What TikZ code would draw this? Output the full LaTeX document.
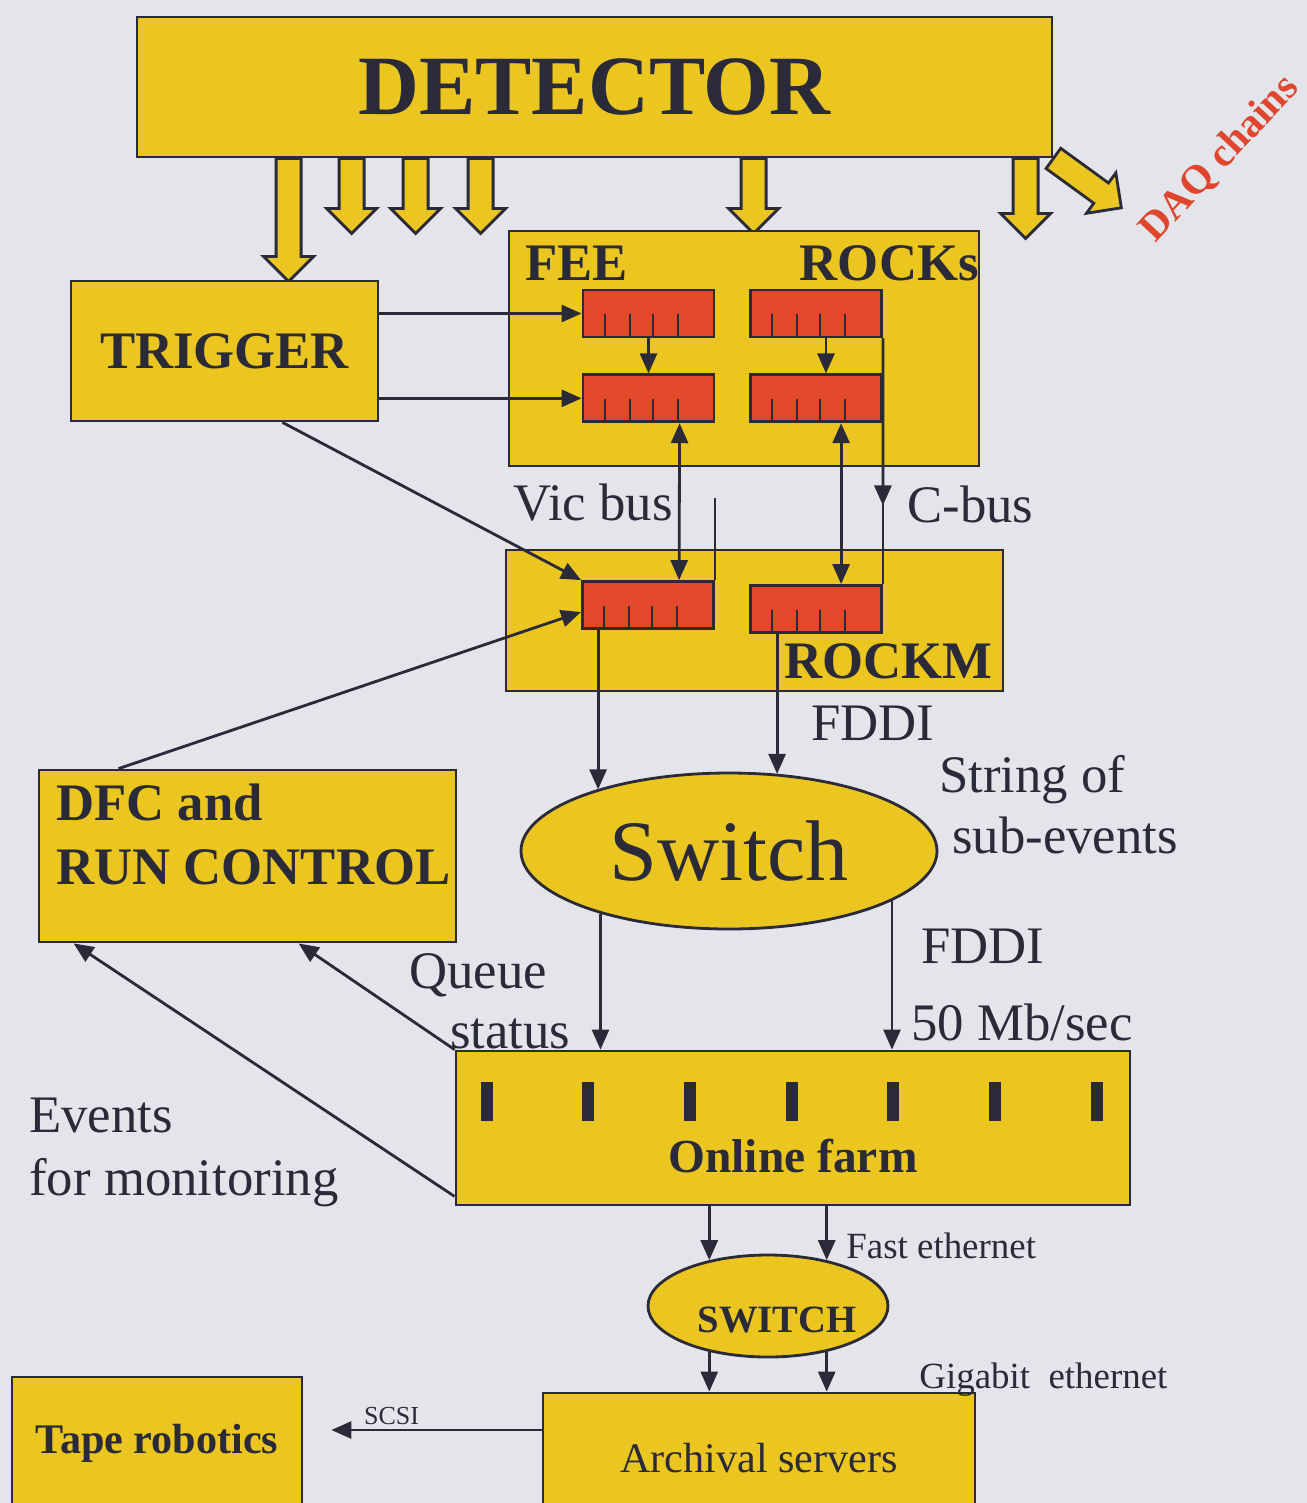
\documentclass[tikz,border=0pt]{standalone}
\usepackage{fontspec}
\setmainfont{Liberation Serif}
\usepackage{tikz}
\usetikzlibrary{arrows.meta,calc,shapes.geometric,positioning}
\definecolor{bgcol}{HTML}{E3E5EA}
\definecolor{yel}{HTML}{EBC620}
\definecolor{redmod}{HTML}{E5472A}
\definecolor{linecol}{HTML}{2A2A38}
\definecolor{daqred}{HTML}{E0452E}
\newcommand{\fatarrow}[3]{%
  \draw[fat, shift={#1}, rotate=#2] (0,0.125) -- (#3-0.25,0.125) -- (#3-0.25,0.25)
    -- (#3,0) -- (#3-0.25,-0.25) -- (#3-0.25,-0.125) -- (0,-0.125) -- cycle;}

\begin{document}
\begin{tikzpicture}[>={Stealth[length=0.2cm,width=0.17cm,inset=0pt]}, color=linecol, line width=0.8pt,
  box/.style={draw, fill=yel, inner sep=0pt},
  module/.style={draw, fill=redmod, minimum width=1.31cm, minimum height=0.47cm, inner sep=0pt},
  fat/.style={draw, fill=yel, line join=miter},
  lbl/.style={inner sep=0pt, font=\fontsize{15}{18}\selectfont},
  blbl/.style={inner sep=0pt, font=\fontsize{15}{18}\selectfont\bfseries},
  smalllbl/.style={inner sep=0pt, font=\fontsize{10.5}{12}\selectfont}]

% background
\useasboundingbox (0,0) rectangle (13.07,-15.03);
\clip (0,0) rectangle (13.07,-15.03);
\fill[bgcol] (0,0) rectangle (13.07,-15.03);

% ---- Detector and DAQ chains ----
\node[box, minimum width=9.15cm, minimum height=1.40cm, font=\fontsize{24}{28}\selectfont\bfseries] (det) at (5.945,-0.87) {\raisebox{-0.06cm}{DETECTOR}};
\fatarrow{($(det.south west)+(1.53,0)$)}{-90}{1.23}
\foreach \dx in {2.16,2.80,3.45,6.18} {\fatarrow{($(det.south west)+(\dx,0)$)}{-90}{0.75}}
\fatarrow{($(det.south west)+(8.90,0)$)}{-90}{0.80}
\fatarrow{(det.south east)}{-36}{0.84}
\node[font=\fontsize{11.6}{14}\selectfont\bfseries, text=daqred, rotate=47, inner sep=0pt] (daq) at (12.20,-1.59) {DAQ chains};

% ---- FEE / ROCKs crate ----
\node[box, minimum width=4.70cm, minimum height=2.35cm] (fee) at (7.44,-3.485) {};
\node[blbl, anchor=base west] at (5.24,-2.80) {FEE};
\node[blbl, anchor=base east] at (9.80,-2.80) {ROCKs};
\node[module] (feeA) at (6.485,-3.135) {};
\node[module, below=0.35cm of feeA] (feeB) {};
\node[module] (rockA) at (8.16,-3.135) {};
\node[module, below=0.35cm of rockA] (rockB) {};

% ---- Trigger ----
\node[box, minimum width=3.07cm, minimum height=1.40cm, font=\fontsize{15}{18}\selectfont\bfseries] (trig) at (2.245,-3.51) {TRIGGER};

% ---- ROCKM ----
\node[box, minimum width=4.97cm, minimum height=1.41cm] (rockm) at (7.545,-6.205) {};
\node[blbl, anchor=base west] at (7.83,-6.78) {ROCKM};
\node[module] (rmA) at (6.48,-6.05) {};
\node[module] (rmB) at (8.16,-6.09) {};

% ticks on the modules
\foreach \m in {feeA,feeB,rockA,rockB,rmA,rmB}
  \foreach \dx in {0.23,0.48,0.71,0.96}
    \draw[line width=0.6pt] ($(\m.south west)+(\dx,0)$) -- ++(0,0.24);

% ---- Switch, DFC, farm ----
\node[draw, fill=yel, ellipse, minimum width=4.16cm, minimum height=1.56cm, inner sep=0pt, font=\fontsize{24.5}{28}\selectfont] (sw) at (7.29,-8.51) {Switch};
\node[box, minimum width=4.17cm, minimum height=1.72cm] (dfc) at (2.475,-8.56) {};
\node[blbl, anchor=base west] at (0.55,-8.20) {DFC and};
\node[blbl, anchor=base west] at (0.55,-8.84) {RUN CONTROL};

\node[box, minimum width=6.74cm, minimum height=1.54cm] (farm) at (7.93,-11.28) {};
\foreach \i in {0,...,6}
  \fill ($(farm.north west)+(0.26+1.017*\i,-0.32)$) rectangle ++(0.12,-0.39);
\node[font=\fontsize{13.5}{16}\selectfont\bfseries, inner sep=0pt, anchor=base] at (7.93,-11.72) {Online farm};

% ---- SWITCH, archival, tape ----
\node[draw, fill=yel, ellipse, minimum width=2.40cm, minimum height=1.02cm, inner sep=0pt] (sw2) at (7.68,-13.06) {};
\node[font=\fontsize{11}{13}\selectfont\bfseries, inner sep=0pt, anchor=base] at (7.77,-13.32) {SWITCH};
\node[box, minimum width=4.32cm, minimum height=1.30cm, font=\fontsize{12}{14}\selectfont] (arch) at (7.59,-14.58) {Archival servers};
\node[box, minimum width=2.90cm, minimum height=1.32cm, font=\fontsize{12}{14}\selectfont\bfseries] (tape) at (1.57,-14.43) {Tape robotics};

% trigger to FEE
\draw[->] (trig.east |- feeA.west) -- (feeA.west);
\draw[->] (trig.east |- feeB.west) -- (feeB.west);
\draw[->] (feeA.south) -- (feeB.north);
\draw[->] ($(rockA.south)+(0.1,0)$) -- ($(rockB.north)+(0.1,0)$);

% Vic bus and C-bus
\draw[<->] ($(feeB.south west)+(0.98,0)$) -- ($(rmA.north west)+(0.98,0)$);
\draw (rmA.north east) -- ++(0,0.82);
\draw[<->] ($(rockB.south west)+(0.92,0)$) -- ($(rmB.north west)+(0.92,0)$);
\draw (rockA.south east) -- (rmB.north east);
\draw[->] (rockA.south east) -- ($(rockA.south east)!0.68!(rmB.north east)$);
\node[lbl, anchor=base west] at (5.12,-5.20) {Vic bus};
\node[lbl, anchor=base west] at (9.06,-5.22) {C-bus};

% trigger and DFC to ROCKM
\draw[->] ($(trig.south)+(0.58,0)$) -- (rmA.north west);
\draw[->] ($(dfc.north west)+(0.81,0)$) -- ($(rmA.west)+(0,-0.07)$);

% ROCKM to switch
\coordinate (ma) at ($(rmA.south west)+(0.17,0)$);
\coordinate (mb) at ($(rmB.south west)+(0.28,0)$);
\draw[->] (ma) -- (ma |- sw.155);
\draw[->] (mb) -- (mb |- sw.57);
\node[lbl, anchor=base west] at (8.10,-7.40) {FDDI};
\node[lbl, anchor=base west] at (9.38,-7.92) {String of};
\node[lbl, anchor=base west] at (9.51,-8.53) {sub-events};

% switch to farm
\draw[->] (sw.206) -- (sw.206 |- farm.north);
\draw[->] (sw.-17) -- (sw.-17 |- farm.north);
\node[lbl, anchor=base west] at (9.20,-9.63) {FDDI};
\node[lbl, anchor=base west] at (9.10,-10.40) {50 Mb/sec};

% farm to DFC
\draw[->] (farm.north west) -- ($(dfc.south west)+(2.61,0)$);
\draw[->] ($(farm.south west)+(0,0.1)$) -- ($(dfc.south west)+(0.36,0)$);
\node[lbl, anchor=base west] at (4.08,-9.88) {Queue};
\node[lbl, anchor=base west] at (4.49,-10.48) {status};
\node[lbl, anchor=base west] at (0.28,-11.32) {Events};
\node[lbl, anchor=base west] at (0.28,-11.95) {for monitoring};

% farm to SWITCH to archival
\draw[->] (sw2.142 |- farm.south) -- (sw2.142);
\draw[->] (sw2.38 |- farm.south) -- (sw2.38);
\draw[->] (sw2.218) -- (sw2.218 |- arch.north);
\draw[->] (sw2.322) -- (sw2.322 |- arch.north);
\node[smalllbl, anchor=base west] at (8.45,-12.58) {Fast ethernet};
\node[smalllbl, anchor=base west] at (9.18,-13.88) {Gigabit\ \ ethernet};

% archival to tape
\coordinate (sc) at ($(arch.west)+(0,0.28)$);
\draw[->, shorten >=0.28cm] (sc) -- (sc -| tape.east)
  node[pos=0.63, above=1pt, font=\fontsize{7.4}{9}\selectfont, inner sep=0pt] {SCSI};

\end{tikzpicture}
\end{document}
